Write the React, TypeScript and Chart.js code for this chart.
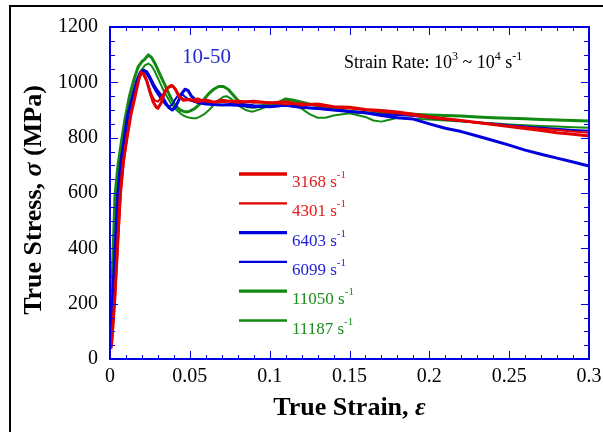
import React, { useEffect, useRef } from 'react';
import { Chart, registerables } from 'chart.js';
Chart.register(...registerables);

const FONT = '"Liberation Serif", "Times New Roman", Times, serif';

// ---- data (true strain / true stress in MPa) ----
const strain3168 = [0.001,0.003,0.0045,0.0063,0.008,0.0104,0.013,0.0157,0.018,0.0195,0.021,0.023,0.025,0.027,0.029,0.030,0.032,0.034,0.036,0.039,0.041,0.043,0.046,0.05,0.055,0.06,0.065,0.07,0.08,0.09,0.1,0.11,0.12,0.13,0.14,0.15,0.16,0.17,0.18,0.19,0.2,0.21,0.22,0.23,0.24,0.25,0.26,0.27,0.28,0.29,0.3];
const stress3168 = [50,220,380,587,700,791,880,948,1010,1036,1030,1005,965,930,910,906,925,960,980,988,975,950,935,938,930,936,928,935,928,932,925,930,918,922,912,910,902,898,893,885,875,868,862,855,848,840,833,826,818,812,806];

const strain4301 = [0.001,0.003,0.005,0.007,0.009,0.011,0.0135,0.016,0.018,0.020,0.022,0.024,0.026,0.028,0.030,0.032,0.035,0.038,0.040,0.042,0.044,0.046,0.05,0.055,0.06,0.07,0.08,0.09,0.1,0.11,0.12,0.13,0.14,0.15,0.16,0.17,0.18,0.19,0.2,0.21,0.22,0.23,0.24,0.25,0.26,0.27,0.28,0.29,0.3];
const stress4301 = [40,200,420,610,730,810,900,965,1010,1035,1025,990,955,935,930,945,975,990,985,965,948,940,935,942,930,928,934,926,928,920,924,915,910,905,900,894,888,880,872,866,860,854,848,842,838,832,828,822,818];

const strain6403 = [0.0005,0.0015,0.0028,0.0048,0.0065,0.0088,0.011,0.014,0.017,0.019,0.021,0.023,0.025,0.027,0.029,0.031,0.033,0.035,0.037,0.039,0.041,0.043,0.045,0.047,0.049,0.051,0.054,0.057,0.06,0.065,0.07,0.08,0.09,0.1,0.11,0.12,0.13,0.14,0.15,0.16,0.17,0.18,0.19,0.2,0.21,0.22,0.23,0.24,0.25,0.26,0.27,0.28,0.29,0.3];
const stress6403 = [80,200,347,587,700,791,880,948,1010,1035,1044,1038,1018,995,975,960,945,925,908,900,910,935,960,975,970,950,935,930,925,920,918,922,915,912,918,910,905,900,895,890,880,872,867,850,834,822,806,790,773,755,740,726,712,697];

const strain6099 = [0.0005,0.0015,0.003,0.005,0.007,0.009,0.0115,0.0145,0.017,0.019,0.021,0.023,0.025,0.027,0.029,0.031,0.033,0.035,0.037,0.039,0.041,0.043,0.045,0.047,0.05,0.055,0.06,0.07,0.08,0.09,0.1,0.11,0.12,0.13,0.14,0.15,0.16,0.17,0.18,0.19,0.2,0.21,0.22,0.23,0.24,0.25,0.26,0.27,0.28,0.29,0.3];
const stress6099 = [70,190,350,580,700,790,880,950,1005,1030,1040,1030,1010,985,965,948,932,918,912,920,940,955,958,948,935,925,920,918,915,910,912,915,908,905,900,895,890,885,882,878,872,866,860,855,850,845,840,836,832,828,825];

const strain11050 = [0.0003,0.001,0.0017,0.0031,0.005,0.0073,0.0095,0.0121,0.015,0.0177,0.020,0.022,0.024,0.026,0.028,0.030,0.032,0.034,0.036,0.038,0.040,0.042,0.044,0.046,0.048,0.050,0.053,0.056,0.059,0.062,0.065,0.068,0.071,0.074,0.077,0.080,0.083,0.086,0.09,0.095,0.1,0.105,0.11,0.115,0.12,0.13,0.14,0.15,0.16,0.17,0.18,0.19,0.2,0.21,0.22,0.23,0.24,0.25,0.26,0.27,0.28,0.29,0.3];
const stress11050 = [100,250,347,587,700,791,870,948,1010,1057,1075,1085,1099,1090,1070,1045,1020,995,970,945,925,910,900,895,893,896,905,920,940,960,975,985,985,975,955,935,920,912,910,915,920,925,940,935,928,915,905,895,890,888,888,885,882,880,878,875,872,870,868,866,864,862,860];

const strain11187 = [0.0003,0.001,0.002,0.0035,0.0055,0.008,0.0105,0.013,0.016,0.019,0.022,0.024,0.026,0.028,0.030,0.032,0.034,0.036,0.038,0.040,0.042,0.044,0.046,0.048,0.050,0.052,0.054,0.056,0.059,0.062,0.065,0.068,0.071,0.073,0.076,0.079,0.082,0.085,0.088,0.09,0.095,0.1,0.105,0.11,0.115,0.12,0.125,0.13,0.135,0.14,0.15,0.16,0.165,0.17,0.175,0.18,0.19,0.2,0.21,0.22,0.23,0.24,0.25,0.26,0.27,0.28,0.29,0.3];
const stress11187 = [90,230,340,570,690,785,860,930,990,1040,1062,1068,1060,1040,1015,990,965,945,925,910,898,888,880,875,872,870,870,875,885,900,918,935,948,950,940,925,910,900,895,895,905,915,925,930,925,905,885,872,872,880,888,875,862,858,865,872,868,866,862,858,855,852,848,845,842,840,838,836];

const seriesLabels = ['3168', '4301', '6403', '6099', '11050', '11187'];
const seriesStrains = [strain3168, strain4301, strain6403, strain6099, strain11050, strain11187];
const seriesStresses = [stress3168, stress4301, stress6403, stress6099, stress11050, stress11187];

const xTickValues = [0, 0.05, 0.1, 0.15, 0.2, 0.25, 0.3];
const xTickLabels = ['0', '0.05', '0.1', '0.15', '0.2', '0.25', '0.3'];
const yTickValues = [0, 200, 400, 600, 800, 1000, 1200];
const yTickLabels = ['0', '200', '400', '600', '800', '1000', '1200'];

// ---- styles ----
const lineColors = ['#e00000', '#e00000', '#0000dd', '#0000dd', '#128a12', '#128a12'];
const lineWidths = [3, 2, 3, 2, 3, 2];
const textColors = ['#e41a1a', '#e41a1a', '#1f1fd6', '#1f1fd6', '#1e8c1e', '#1e8c1e'];
const AXIS_BLUE = '#0000e0';

type Run = { t: string; font: string; dy?: number };

function runsWidth(ctx: CanvasRenderingContext2D, runs: Run[]) {
  let w = 0;
  for (const r of runs) { ctx.font = r.font; w += ctx.measureText(r.t).width; }
  return w;
}
function drawRuns(ctx: CanvasRenderingContext2D, x: number, y: number, runs: Run[]) {
  let cx = x;
  for (const r of runs) {
    ctx.font = r.font;
    ctx.fillText(r.t, cx, y + (r.dy || 0));
    cx += ctx.measureText(r.t).width;
  }
}

const decorPlugin = {
  id: 'decor',
  beforeDraw(chart: any) {
    const ctx = chart.ctx as CanvasRenderingContext2D;
    ctx.save();
    ctx.fillStyle = '#ffffff';
    ctx.fillRect(0, 0, chart.width, chart.height);
    ctx.fillStyle = '#000000';
    ctx.fillRect(9, 5, chart.width, 2);
    ctx.fillRect(9, 5, 2, chart.height);
    ctx.restore();
  },
  afterDraw(chart: any) {
    const ctx = chart.ctx as CanvasRenderingContext2D;
    const a = chart.chartArea;
    const xs = chart.scales.x;
    const ys = chart.scales.y;
    ctx.save();
    // tick marks on all four sides, pointing inward
    ctx.strokeStyle = AXIS_BLUE;
    ctx.lineWidth = 1;
    ctx.beginPath();
    for (let i = 0; i <= 30; i++) {
      const px = Math.round(xs.getPixelForValue(i * 0.01)) + 0.5;
      const len = i % 5 === 0 ? 8 : 4;
      ctx.moveTo(px, a.bottom); ctx.lineTo(px, a.bottom - len);
      ctx.moveTo(px, a.top); ctx.lineTo(px, a.top + len);
    }
    for (let i = 0; i <= 24; i++) {
      const py = Math.round(ys.getPixelForValue(i * 50)) + 0.5;
      const len = i % 4 === 0 ? 8 : 5;
      ctx.moveTo(a.left, py); ctx.lineTo(a.left + len, py);
      ctx.moveTo(a.right, py); ctx.lineTo(a.right - len, py);
    }
    ctx.stroke();
    ctx.lineWidth = 2;
    ctx.strokeRect(a.left, a.top, a.right - a.left, a.bottom - a.top);

    // axis titles
    ctx.fillStyle = '#000';
    ctx.textBaseline = 'alphabetic';
    ctx.textAlign = 'left';
    const bold = `bold 26px ${FONT}`;
    const boldIt = `italic bold 26px ${FONT}`;
    const xRuns: Run[] = [{ t: 'True Strain, ', font: bold }, { t: 'ε', font: boldIt }];
    const xw = runsWidth(ctx, xRuns);
    drawRuns(ctx, (a.left + a.right) / 2 - xw / 2, 415, xRuns);

    const yRuns: Run[] = [{ t: 'True Stress, ', font: bold }, { t: 'σ', font: boldIt }, { t: ' (MPa)', font: bold }];
    const yw = runsWidth(ctx, yRuns);
    ctx.save();
    ctx.translate(41, (a.top + a.bottom) / 2 + 7);
    ctx.rotate(-Math.PI / 2);
    drawRuns(ctx, -yw / 2, 0, yRuns);
    ctx.restore();

    // legend
    const ds = chart.data.datasets;
    for (let i = 0; i < ds.length; i++) {
      const rowY = 174 + i * 29.3;
      ctx.strokeStyle = ds[i].borderColor;
      ctx.lineWidth = ds[i].borderWidth + 0.3;
      ctx.beginPath();
      ctx.moveTo(239, rowY); ctx.lineTo(287, rowY);
      ctx.stroke();
      ctx.fillStyle = textColors[i];
      drawRuns(ctx, 292, rowY + 13, [
        { t: ds[i].label + ' s', font: `17px ${FONT}` },
        { t: '-1', font: `11px ${FONT}`, dy: -9 },
      ]);
    }

    // annotations
    ctx.fillStyle = '#2626d0';
    drawRuns(ctx, 182, 63, [{ t: '10-50', font: `21px ${FONT}` }]);
    ctx.fillStyle = '#000';
    const f = `18px ${FONT}`;
    const sf = `12px ${FONT}`;
    drawRuns(ctx, 344, 68, [
      { t: 'Strain Rate: 10', font: f },
      { t: '3', font: sf, dy: -8 },
      { t: ' ~ 10', font: f },
      { t: '4', font: sf, dy: -8 },
      { t: ' s', font: f },
      { t: '-1', font: sf, dy: -8 },
    ]);
    ctx.restore();
  },
};

export default function App() {
  const ref = useRef<HTMLCanvasElement | null>(null);
  useEffect(() => {
    if (!ref.current) return;
    const datasets = seriesLabels.map((label, i) => ({
      label,
      data: seriesStrains[i].map((x, j) => ({ x, y: seriesStresses[i][j] })),
      borderColor: lineColors[i],
      backgroundColor: lineColors[i],
      borderWidth: lineWidths[i],
      pointRadius: 0,
      tension: 0,
      fill: false,
      borderJoinStyle: 'round' as const,
      borderCapStyle: 'round' as const,
    }));
    const chart = new Chart(ref.current, {
      type: 'line',
      data: { datasets },
      options: {
        responsive: false,
        animation: false,
        devicePixelRatio: 1,
        layout: { padding: { left: 0, top: 27, right: 14, bottom: 0 } },
        plugins: { legend: { display: false }, tooltip: { enabled: false } },
        scales: {
          x: {
            type: 'linear',
            min: 0,
            max: 0.3,
            afterBuildTicks: (s: any) => { s.ticks = xTickValues.map((v) => ({ value: v })); },
            afterFit: (s: any) => { s.height = 73; s.paddingLeft = 0; s.paddingRight = 0; },
            ticks: {
              autoSkip: false,
              maxRotation: 0,
              padding: 6,
              color: '#000',
              font: { family: FONT, size: 20 },
              callback: (_v: any, i: number) => xTickLabels[i],
            },
            grid: { display: false, drawTicks: false },
            border: { display: false },
          },
          y: {
            type: 'linear',
            min: 0,
            max: 1200,
            afterBuildTicks: (s: any) => { s.ticks = yTickValues.map((v) => ({ value: v })); },
            afterFit: (s: any) => { s.width = 110; s.paddingTop = 0; s.paddingBottom = 0; },
            ticks: {
              autoSkip: false,
              padding: 12,
              color: '#000',
              font: { family: FONT, size: 20 },
              callback: (_v: any, i: number) => yTickLabels[i],
            },
            grid: { display: false, drawTicks: false },
            border: { display: false },
          },
        },
      },
      plugins: [decorPlugin],
    });
    return () => chart.destroy();
  }, []);
  return (
    <div style={{ position: 'fixed', left: 0, top: 0, width: 603, height: 432 }}>
      <canvas ref={ref} width={603} height={432} style={{ display: 'block' }} />
    </div>
  );
}
